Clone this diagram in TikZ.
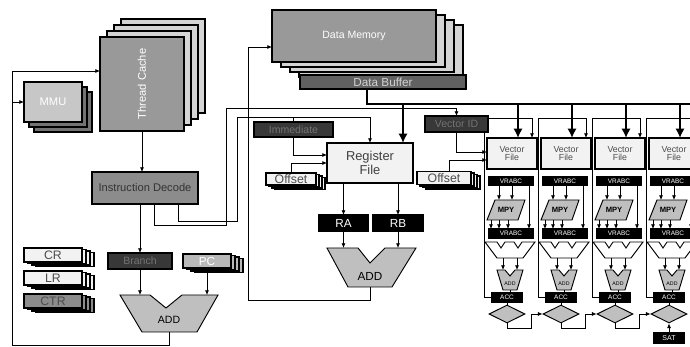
\documentclass[tikz,border=0pt]{standalone}
\usepackage{fontspec}
\setmainfont{Liberation Sans}
\usetikzlibrary{arrows.meta, shapes.geometric, calc, positioning}
\newcommand{\fsz}[1]{\fontsize{#1}{#1}\selectfont}

\begin{document}
\begin{tikzpicture}[
        x=0.3mm, y=-0.3mm,
        line width=0.6pt,
        >={Latex[length=4pt,width=3.5pt]},
        sz/.style 2 args={minimum width=#1*0.3mm, minimum height=#2*0.3mm},
        unit/.style={draw=black, line width=0.9pt, inner sep=0pt, outer sep=0pt, align=center},
        stack/.style={unit, line width=1.3pt},
        blk/.style={unit, fill=black, text=white},
        dark/.style={unit, fill=black!78, text=black!55},
        grayshape/.style={draw=black, line width=0.8pt, fill=black!25},
        bus/.style={line width=2.2pt},
        busarrow/.style={bus, -{Latex[length=8pt,width=8pt]}}
    ]
    \useasboundingbox (0,0) rectangle (690,347);
    \clip (0,0) rectangle (690,347);

    % Thread cache and MMU
    \foreach \k in {3,2,1}
        \node[stack, sz={84}{94}, fill=black!17] (tc-\k) at (142+7*\k, 84-6*\k) {};
    \node[stack, sz={84}{94}, fill=black!40] (tc) at (142,84) {};
    \node[rotate=90, text=white, font=\fsz{9.5}] (tc-label) at (tc) {Thread Cache};

    \foreach \k in {2,1}
        \node[stack, sz={58}{40}, fill=black!55] (mmu-\k) at (53+5*\k, 102+5*\k) {};
    \node[stack, sz={58}{40}, fill=black!22, text=white, font=\fsz{9.5}] (mmu) at (53,102) {MMU};

    % Data memory
    \foreach \k in {3,2,1}
        \node[stack, sz={164}{52}, fill=black!17] (dmem-\k) at (354+9*\k, 36+5*\k) {};
    \node[stack, sz={164}{52}, fill=black!40, text=white, font=\fsz{9}] (dmem) at (354,36) {Data Memory};
    \node[unit, sz={166}{14}, fill=black!62, text=black!18, font=\fsz{10}] (dbuf) at (383,82) {Data Buffer};

    % Decode and branch unit
    \node[unit, sz={106}{32}, fill=black!45, text=black!80, font=\fsz{9.5}] (idec) at (145,188) {Instruction Decode};
    \node[dark, sz={64}{16}, font=\fsz{9}] (brn) at (140,261) {Branch};
    \foreach \k in {3,2,1}
        \node[unit, sz={48}{14}, fill=black!28] (pc-\k) at (207+4*\k, 261+1.5*\k) {};
    \node[unit, sz={48}{14}, fill=black!28, text=white, font=\fsz{10}] (pc) at (207,261) {PC};

    \foreach \n/\y/\col in {CR/255/black!5, LR/278/black!5, CTR/301/black!45} {
        \foreach \k in {3,2,1}
            \node[unit, sz={58}{14}, fill=\col] (\n-\k) at (53+4*\k, \y+1.5*\k) {};
        \node[unit, sz={58}{14}, fill=\col, text=black!70, font=\fsz{10.5}] (\n) at (53,\y) {\n};
    }

    \draw[grayshape] (120,295) -- (150,295) -- (166,308) -- (182,295) -- (218,295)
        -- (197,332) -- (142,332) -- cycle;
    \node[font=\fsz{9}] (add1) at (169,320) {ADD};
    \coordinate (add1-l) at (140,295);
    \coordinate (add1-r) at (207,295);
    \coordinate (add1-out) at (169,332);

    % Scalar register file
    \node[unit, sz={86}{40}, fill=black!5, text=black!75, font=\fsz{11}] (rf) at (370,163) {Register\\[1pt]File};
    \node[dark, sz={79}{15}, font=\fsz{9}] (imm) at (293.5,129.5) {Immediate};
    \foreach \k in {3,2,1}
        \node[unit, sz={50}{12}, fill=black!5] (off1-\k) at (291+3*\k, 179+1.5*\k) {};
    \node[unit, sz={50}{12}, fill=black!5, text=black!70, font=\fsz{10.5}] (off1) at (291,179) {Offset};
    \node[blk, sz={49}{16}, font=\fsz{10}] (ra) at (343.5,223) {RA};
    \node[blk, sz={50}{16}, font=\fsz{10}] (rb) at (398,223) {RB};

    \draw[grayshape] (327,248) -- (358,248) -- (370,263) -- (385,248) -- (416,248)
        -- (392,287) -- (348,287) -- cycle;
    \node[font=\fsz{10}] (add2) at (370,276) {ADD};
    \coordinate (add2-l) at (343.5,248);
    \coordinate (add2-r) at (398,248);
    \coordinate (add2-out) at (370,287);

    \coordinate (rf-i1) at (327,155);
    \coordinate (rf-i2) at (327,163);
    \coordinate (rf-top) at (403,143);
    \coordinate (dmem-in) at (272,47);
    \coordinate (lp-top) at (12,71);
    \coordinate (id-a) at (154,204);
    \coordinate (id-b) at (178,204);
    \coordinate (db-out) at (367,89);
    \coordinate (bus-r) at (700,104);
    \coordinate (vf-i1) at (487,152);
    \coordinate (vf-i2) at (487,160);

    % Vector lanes
    \foreach \i in {0,...,3} {
        \pgfmathsetmacro\xo{487+54*\i}
        \draw[busarrow] (\xo+31,104) -- (\xo+31,138);
        \draw[->] (\xo+20,297.5) -- (\xo-3,297.5) -- (\xo-3,118) -- (\xo+45,118) -- (\xo+45,138);
        \node[unit, line width=1.2pt, sz={50}{31}, fill=black!5, text=black!70, font=\fsz{7.5}] (vf-\i) at (\xo+25,153.5) {Vector\\File};
        \node[blk, sz={44}{8}, font=\fsz{5.5}] (va-\i) at (\xo+24,181) {VRABC};
        \draw[grayshape] (\xo+8,200) -- (\xo+38,200) -- (\xo+31,220) -- (\xo,220) -- cycle;
        \node[font=\bfseries\fsz{6.5}] (mpy-\i) at (\xo+19,210) {MPY};
        \node[blk, sz={44}{9}, font=\fsz{5.5}] (vb-\i) at (\xo+24,233.5) {VRABC};
        \draw[grayshape, fill=white] (\xo-2,242) -- (\xo+10,242) -- (\xo+14,248) -- (\xo+18,242)
            -- (\xo+27,242) -- (\xo+31,248) -- (\xo+35,242) -- (\xo+48,242)
            -- (\xo+36,258) -- (\xo+10,258) -- cycle;
        \draw[grayshape] (\xo+10,270) -- (\xo+18,270) -- (\xo+23,276) -- (\xo+28,270) -- (\xo+36,270)
            -- (\xo+30,290) -- (\xo+16,290) -- cycle;
        \node[font=\fsz{4.5}] (sadd-\i) at (\xo+23,284) {ADD};
        \node[blk, sz={30}{9}, font=\fsz{5.5}] (acc-\i) at (\xo+20,297.5) {ACC};
        \node[diamond, draw=black, line width=0.8pt, fill=black!25, inner sep=0pt,
            minimum width=36*0.3mm, minimum height=18*0.3mm] (cmp-\i) at (\xo+20,314) {};
        \draw (acc-\i.south) -- (cmp-\i.north);
        \foreach \d in {12,25}
            \draw[->] (\xo+\d,185) -- (\xo+\d,200);
        \draw[->] (\xo+42,185) -- (\xo+42,229);
        \foreach \d in {4,12,21}
            \draw[->] (\xo+\d,220) -- (\xo+\d,229);
        \foreach \d in {16,30}
            \draw[->] (\xo+\d,258) -- (\xo+\d,270);
        \draw (\xo+23,290) -- (\xo+23,293);
    }
    \foreach \i/\j in {0/1,1/2,2/3}
        \draw[->] (cmp-\i.south) -- ++(0,5) -| ($(cmp-\j.west)+(-11,0)$) -- (cmp-\j.west);
    \node[blk, sz={30}{10}, font=\fsz{6}] (sat) at (669,338) {SAT};
    \draw[->] (sat) -- (cmp-3.south);

    \foreach \k in {3,2,1}
        \node[unit, sz={54}{13}, fill=black!5] (off2-\k) at (444+3*\k,178+1.5*\k) {};
    \node[unit, sz={54}{13}, fill=black!5, text=black!70, font=\fsz{10.5}] (off2) at (444,178) {Offset};
    \node[dark, sz={63}{16}, font=\fsz{9}] (vid) at (456.5,124) {Vector ID};

    % Connections
    \draw[->] (tc.south) -- (tc.south |- idec.north);
    \draw[->] (brn |- idec.south) -- (brn.north);
    \draw[->] (brn) -- (add1-l);
    \draw[->] (pc) -- (add1-r);
    \draw[->] (add1-out) -- (169,345) -- (12,345) -- (lp-top) -- (lp-top -| tc.west);
    \draw[->] (lp-top |- mmu.west) -- (mmu.west);

    \draw[->] (id-a) -- (154,225) -- (226,225) -- (226,108) -| (vid.north);
    \draw[->] (id-b) -- (178,221) -- (237,221) -- (237,117) -| (rf.north);
    \draw (imm.north |- 0,117) -- (imm.north);
    \draw[->] (imm.south) |- (rf-i1);
    \draw[->] (off1.north) |- (rf-i2);
    \draw[->] (ra |- rf.south) -- (ra.north);
    \draw[->] (rb |- rf.south) -- (rb.north);
    \draw[->] (ra) -- (add2-l);
    \draw[->] (rb) -- (add2-r);
    \draw[->] (add2-out) -- (370,300) -- (248,300) -- (248,47) -- (dmem-in);

    \draw[bus] (db-out) |- (bus-r);
    \draw[busarrow] (rf-top |- bus-r) -- (rf-top);
    \draw[->] (vid.south) |- (vf-i1);
    \draw[->] ($(off2.north)+(5,0)$) |- (vf-i2);
\end{tikzpicture}
\end{document}
